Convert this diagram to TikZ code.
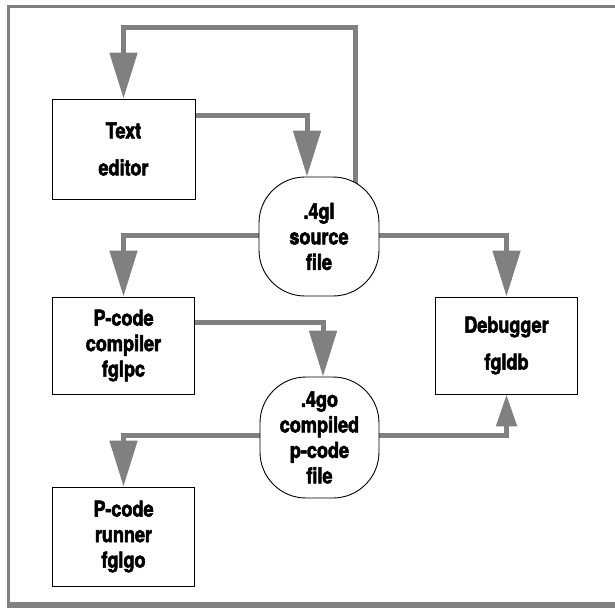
\documentclass[tikz,border=0pt]{standalone}
\usepackage{fontspec}
\setmainfont{TeX Gyre Heros}[FakeStretch=0.82]
\newfontfamily\heavyfont{TeX Gyre Heros}[FakeStretch=0.82,FakeBold=2.5,BoldFont={* Bold},BoldFeatures={FakeStretch=0.82,FakeBold=2.5}]
\usetikzlibrary{arrows.meta,backgrounds}
\definecolor{flowgray}{RGB}{128,128,128}
\begin{document}
\begin{tikzpicture}[x=1pt,y=-1pt,
  txt/.style={font=\heavyfont\fontsize{22}{25.5}\selectfont\bfseries, align=center, inner sep=0pt},
  wide/.style={font=\heavyfont\fontsize{22}{37}\selectfont\bfseries},
  procbox/.style={txt, draw=black, line width=0.9pt, fill=white, rectangle},
  filebox/.style={txt, draw=black, line width=0.9pt, fill=white, rectangle, rounded corners=46pt},
  flow/.style={draw=flowgray, line width=5pt, -{Triangle[length=46pt,width=27pt]}},
  smallflow/.style={draw=flowgray, line width=5pt, -{Triangle[length=32pt,width=20pt]}},
  frameline/.style={draw=flowgray}
]
\useasboundingbox (0,0) rectangle (615,608);
% frame
\draw[frameline, line width=3pt] (8.5,605) -- (8.5,6.5) -- (615,6.5);
\draw[frameline, line width=6pt] (7,605) -- (615,605);

\node[procbox, wide, minimum width=143pt, minimum height=100pt] (te) at (123.5,149) {Text\\editor};
\node[filebox, minimum width=120pt, minimum height=119pt] (src) at (319,236.5) {.4gl\\source\\file};
\node[procbox, minimum width=142pt, minimum height=97pt] (pc) at (123.5,345.5) {P-code\\compiler\\fglpc};
\node[procbox, wide, minimum width=142pt, minimum height=97pt] (dbg) at (506.5,345.5) {Debugger\\fgldb};
\node[filebox, minimum width=119pt, minimum height=121pt] (go) at (319.5,437.5) {.4go\\compiled\\p-code\\file};
\node[procbox, minimum width=142pt, minimum height=99pt] (run) at (123.5,536.5) {P-code\\runner\\fglgo};

\coordinate (top) at (0,27.5);

\begin{scope}[on background layer]
\draw[flow] ([xshift=36pt]src.center) -- ([xshift=36pt]src.center |- top) -| (te.north);
\draw[flow] ([yshift=34pt]te.east) -| ([xshift=-12pt]src.north);
\draw[flow] ([yshift=1.5pt]src.west) -| (pc.north);
\draw[flow] ([yshift=1.5pt]src.east) -| (dbg.north);
\draw[flow] ([yshift=23.5pt]pc.east) -| ([xshift=3.5pt]go.north);
\draw[flow] ([yshift=2.5pt]go.west) -| (run.north);
\draw[smallflow] ([yshift=2.5pt]go.east) -| (dbg.south);
\end{scope}
\end{tikzpicture}
\end{document}
